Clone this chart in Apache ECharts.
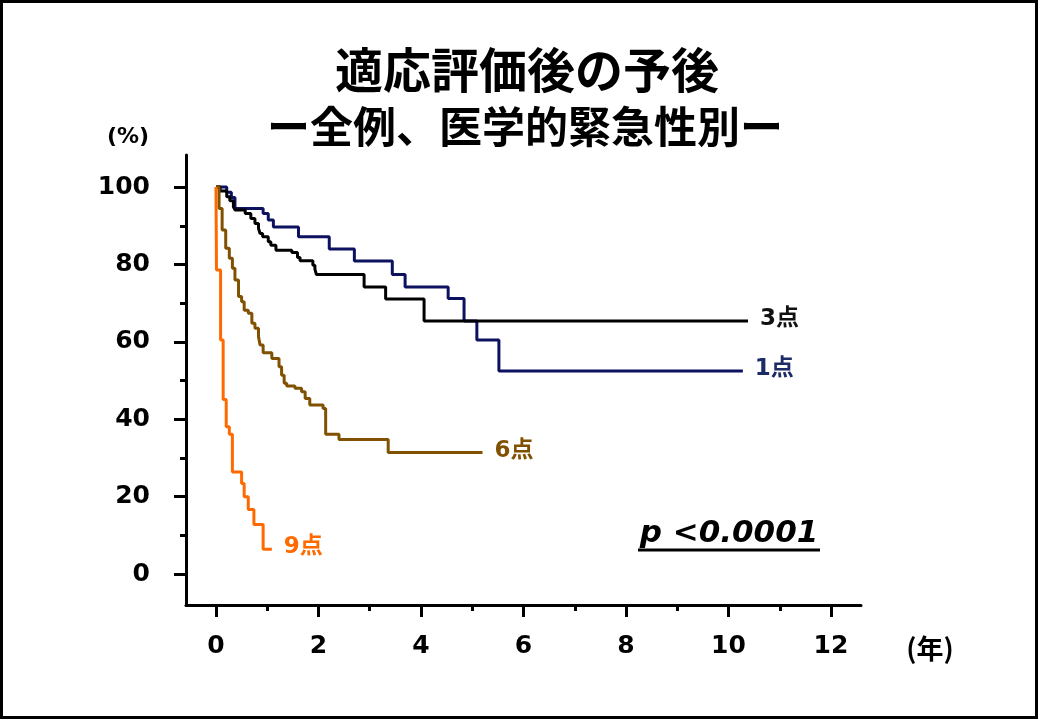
<!DOCTYPE html>
<html>
<head>
<meta charset="utf-8">
<script src="https://cdn.jsdelivr.net/npm/echarts@6/dist/echarts.min.js"></script>
<style>html,body{margin:0;padding:0;background:#fff}#c{width:1040px;height:720px}</style>
</head>
<body>
<div id="c"></div>
<script>
// ---- data (years, survival %) ----
const title = '適応評価後の予後';
const subtitle = 'ー全例、医学的緊急性別ー';
const xTicks = [0, 2, 4, 6, 8, 10, 12];
const xMinorTicks = [1, 3, 5, 7, 9, 11];
const yTicks = [0, 20, 40, 60, 80, 100];
const yMinorTicks = [10, 30, 50, 70, 90];

const names = ['1点', '3点', '6点', '9点'];

const t1 = [0, 0.21, 0.30, 0.37, 0.92, 1.02, 1.12, 1.61, 2.21, 2.70, 3.44, 3.69, 4.53, 4.84, 5.09, 5.52, 10.28];
const v1 = [100, 98.7, 97.3, 94.5, 93.2, 91.5, 89.7, 87.2, 84.0, 80.9, 77.4, 74.2, 71.2, 65.4, 60.5, 52.5, 52.5];

const t3 = [0, 0.08, 0.21, 0.27, 0.34, 0.37, 0.57, 0.68, 0.76, 0.83, 0.86, 0.91, 1.02, 1.07, 1.17, 1.48, 1.59, 1.64, 1.89, 1.93, 1.96, 2.89, 3.31, 4.06, 10.38];
const v3 = [100, 99.0, 97.5, 96.5, 94.9, 94.1, 93.2, 91.9, 90.6, 89.3, 88.0, 87.2, 85.9, 85.0, 83.7, 83.1, 81.8, 81.0, 79.8, 78.8, 77.4, 74.2, 71.1, 65.4, 65.4];

const t6 = [0, 0.06, 0.12, 0.19, 0.26, 0.32, 0.37, 0.44, 0.50, 0.55, 0.63, 0.70, 0.76, 0.83, 0.86, 0.92, 1.09, 1.23, 1.28, 1.33, 1.38, 1.54, 1.67, 1.74, 1.83, 2.09, 2.14, 2.40, 3.36, 5.20];
const v6 = [100, 94.5, 88.9, 84.2, 81.6, 79.0, 76.0, 71.7, 70.4, 68.2, 67.4, 64.8, 63.5, 61.3, 59.2, 57.2, 55.7, 53.6, 51.4, 49.3, 48.6, 48.0, 47.1, 45.4, 43.7, 42.8, 36.1, 34.8, 31.4, 31.4];

const t9 = [0, 0.01, 0.09, 0.14, 0.20, 0.26, 0.32, 0.50, 0.55, 0.63, 0.74, 0.92, 1.09];
const v9 = [100, 78.6, 60.5, 45.1, 38.1, 36.1, 26.4, 23.4, 20.0, 16.7, 12.8, 6.4, 6.4];

const pText = 'p <0.0001';

// ---- chart ----
const zip = (t, v) => t.map((x, i) => [x, v[i]]);
const NUM = 'DejaVu Sans, Noto Sans CJK JP';
const CJK = 'Noto Sans CJK JP, DejaVu Sans';

function kmSeries(name, t, v, color, textColor, z) {
  return {
    name, type: 'line', step: 'end', data: zip(t, v),
    xAxisIndex: 0, yAxisIndex: 0,
    symbol: 'none', z,
    lineStyle: { color, width: 3 },
    endLabel: {
      show: true, formatter: name, distance: 12, offset: [0, -2],
      color: textColor, fontFamily: NUM, fontWeight: 'bold', fontSize: 23
    }
  };
}

const chart = echarts.init(document.getElementById('c'), null, { renderer: 'canvas' });
const xMin = -0.585, xMax = 12.585, yMin = -8, yMax = 108.3;
const axisCommon = { type: 'value', splitLine: { show: false } };

chart.setOption({
  animation: false,
  backgroundColor: '#fff',
  grid: { left: 186, right: 179, top: 155, bottom: 115, containLabel: false },
  xAxis: [
    Object.assign({}, axisCommon, {
      min: xMin, max: xMax, position: 'bottom',
      axisLine: { show: true, onZero: false, lineStyle: { color: '#000', width: 3 } },
      axisTick: { show: true, length: 12, customValues: xTicks, lineStyle: { color: '#000', width: 3 } },
      axisLabel: { customValues: xTicks, margin: 29, color: '#000', fontFamily: NUM, fontWeight: 'bold', fontSize: 25 }
    }),
    Object.assign({}, axisCommon, {
      min: xMin, max: xMax, position: 'bottom',
      axisLine: { show: false, onZero: false },
      axisTick: { show: true, length: 6, customValues: xMinorTicks, lineStyle: { color: '#000', width: 3 } },
      axisLabel: { show: false }
    })
  ],
  yAxis: [
    Object.assign({}, axisCommon, {
      min: yMin, max: yMax, position: 'left',
      axisLine: { show: true, onZero: false, lineStyle: { color: '#000', width: 3 } },
      axisTick: { show: true, length: 12, customValues: yTicks, lineStyle: { color: '#000', width: 3 } },
      axisLabel: { customValues: yTicks, margin: 36, color: '#000', fontFamily: NUM, fontWeight: 'bold', fontSize: 25 }
    }),
    Object.assign({}, axisCommon, {
      min: yMin, max: yMax, position: 'left',
      axisLine: { show: false, onZero: false },
      axisTick: { show: true, length: 6, customValues: yMinorTicks, lineStyle: { color: '#000', width: 3 } },
      axisLabel: { show: false }
    })
  ],
  series: [
    kmSeries(names[0], t1, v1, '#0c1160', '#1c2a66', 2),
    kmSeries(names[1], t3, v3, '#000000', '#111111', 3),
    kmSeries(names[2], t6, v6, '#7f5100', '#7f5100', 4),
    kmSeries(names[3], t9, v9, '#ff6a00', '#ff6a00', 5)
  ],
  graphic: [
    { type: 'rect', shape: { x: 1.5, y: 1.5, width: 1035, height: 716 }, style: { fill: null, stroke: '#000', lineWidth: 3 }, silent: true },
    { type: 'text', x: 527, y: 70, style: { text: title, fontFamily: CJK, fontWeight: 'bold', fontSize: 48, fill: '#000', align: 'center', verticalAlign: 'middle' } },
    { type: 'text', x: 525, y: 127, style: { text: subtitle, fontFamily: CJK, fontWeight: 'bold', fontSize: 43, fill: '#000', align: 'center', verticalAlign: 'middle' } },
    { type: 'text', x: 128, y: 137, style: { text: '(%)', fontFamily: NUM, fontWeight: 'bold', fontSize: 22, fill: '#000', align: 'center', verticalAlign: 'middle' } },
    { type: 'text', x: 930, y: 649, style: { text: '(年)', fontFamily: CJK, fontWeight: 'bold', fontSize: 27, fill: '#000', align: 'center', verticalAlign: 'middle' } },
    { type: 'text', x: 729, y: 534, style: { text: pText, fontFamily: NUM, fontWeight: 'bold', fontStyle: 'italic', fontSize: 31, fill: '#000', align: 'center', verticalAlign: 'middle' } },
    { type: 'line', shape: { x1: 638, y1: 550, x2: 820, y2: 550 }, style: { stroke: '#000', lineWidth: 3 } }
  ]
});
</script>
</body>
</html>
